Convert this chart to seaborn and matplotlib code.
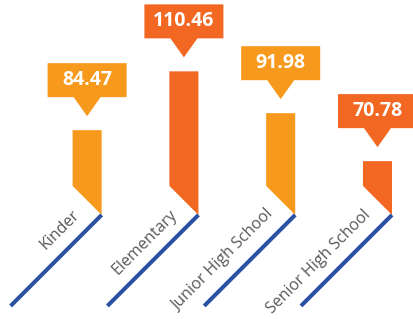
import numpy as np
import matplotlib
matplotlib.use("Agg")
import matplotlib.pyplot as plt
import seaborn as sns
from matplotlib.patches import Polygon

# -----------------------------------------------------
# Data
# -----------------------------------------------------
categories = ["Kinder", "Elementary", "Junior High School", "Senior High School"]
values = [84.47, 110.46, 91.98, 70.78]
value_labels = ["84.47", "110.46", "91.98", "70.78"]
bar_colors = ["#F7991C", "#F26722", "#F7991C", "#F26722"]

line_color = "#2A50A3"
label_color = "#595959"
plt.rcParams["font.family"] = ["Open Sans", "DejaVu Sans"]

# -----------------------------------------------------
# Figure
# -----------------------------------------------------
W, H = 413, 319
fig = plt.figure(figsize=(W / 100, H / 100), dpi=100)
ax = fig.add_axes([0, 0, 1, 1])

sns.barplot(x=categories, y=values, hue=categories, palette=bar_colors,
            width=0.3, saturation=1, legend=False, ax=ax)

xmin, xmax = -0.9, 3.367
ymin, ymax = 1, 142
ax.set_xlim(xmin, xmax)
ax.set_ylim(ymin, ymax)
ax.axis("off")

# pixels per data unit
sx = W / (xmax - xmin)
sy = H / (ymax - ymin)
base = 47
r2 = np.sqrt(2)

bars = list(ax.patches)
for bar, color, label, txt in zip(bars, bar_colors, categories, value_labels):
    x0 = bar.get_x()
    w = bar.get_width()
    top = bar.get_height()
    cx = x0 + w / 2
    bar.set_visible(False)

    # bar with a 45 degree cut at the bottom
    cut = w * sx / sy
    ax.add_patch(Polygon([(x0, top), (x0 + w, top), (x0 + w, base), (x0, base + cut)],
                         closed=True, fc=color, ec="none"))

    # blue diagonal line
    L = 91
    ax.plot([x0 + w, x0 + w - L / sx], [base, base - L / sy], color=line_color,
            lw=2.9, solid_capstyle="butt")

    # rotated category label
    d_along, d_perp = 15, 15
    tx = x0 + w + (-d_along - d_perp) / r2 / sx
    ty = base + (-d_along + d_perp) / r2 / sy
    ax.text(tx, ty, label, rotation=45, rotation_mode="anchor", ha="right",
            va="baseline", fontsize=11.5, color=label_color)

    # callout box with pointer
    pts = [(0, 14), (13.5, 33), (39.5, 33), (39.5, 67), (-39.5, 67), (-39.5, 33), (-13.5, 33)]
    ax.add_patch(Polygon([(cx + px / sx, top + py / sy) for px, py in pts],
                         closed=True, fc=color, ec="none", clip_on=False))
    ax.text(cx, top + 50 / sy, txt, ha="center", va="center", fontsize=14,
            fontweight="bold", color="white")

fig.savefig("out.png", dpi=100)
